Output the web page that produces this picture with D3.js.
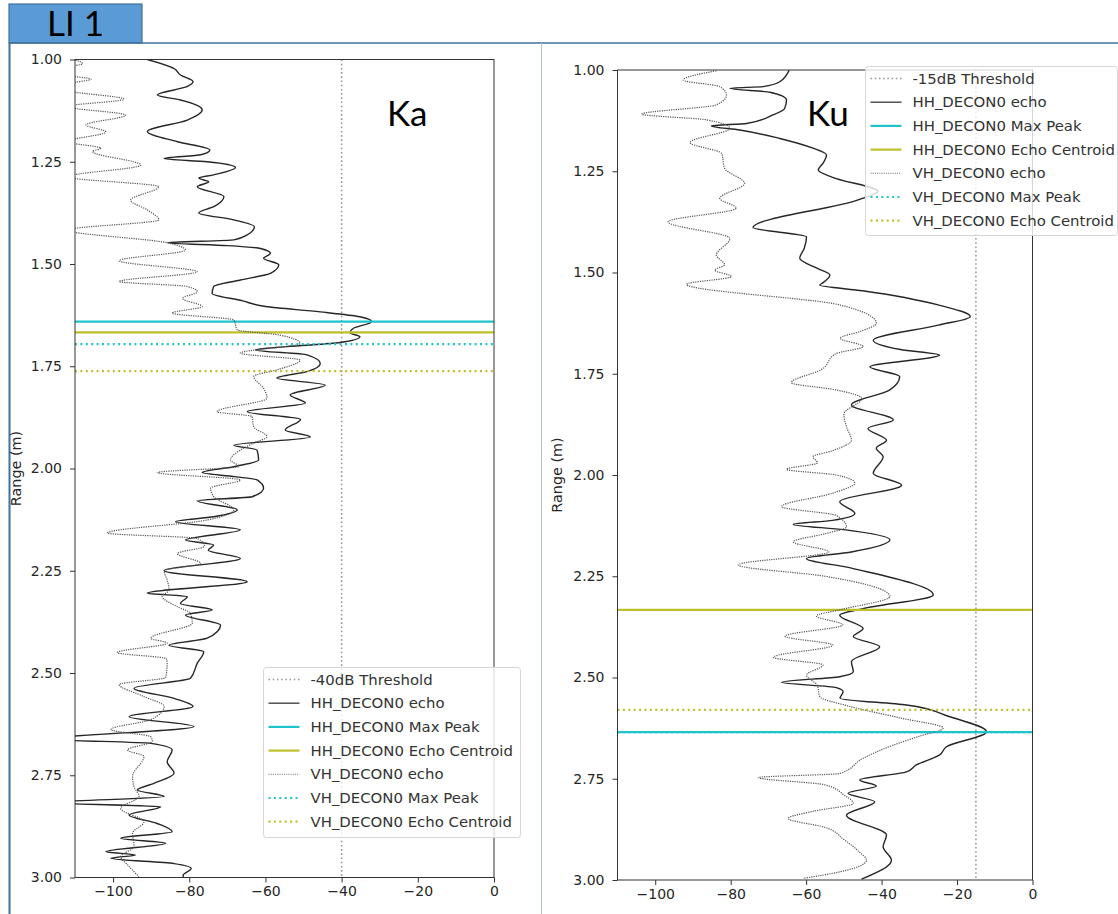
<!DOCTYPE html>
<html><head><meta charset="utf-8">
<script src="https://cdn.jsdelivr.net/npm/d3@7"></script>
<style>
body{margin:0;background:#fff}
svg{display:block}
</style>
</head><body>
<svg id="c" width="1118" height="914"></svg>
<script>
// ---------------- DATA ----------------
const rangeTicks = [1.00, 1.25, 1.50, 1.75, 2.00, 2.25, 2.50, 2.75, 3.00];
const powerTicks = [-100, -80, -60, -40, -20, 0];
const kaLegend = ["-40dB Threshold","HH_DECON0 echo","HH_DECON0 Max Peak","HH_DECON0 Echo Centroid","VH_DECON0 echo","VH_DECON0 Max Peak","VH_DECON0 Echo Centroid"];
const kuLegend = ["-15dB Threshold","HH_DECON0 echo","HH_DECON0 Max Peak","HH_DECON0 Echo Centroid","VH_DECON0 echo","VH_DECON0 Max Peak","VH_DECON0 Echo Centroid"];

// [range (m), power (dB)]
const kaHH = [[1.000,-91.0],[1.022,-84.0],[1.038,-82.3],[1.054,-79.0],[1.066,-80.5],[1.087,-88.4],[1.099,-82.3],[1.123,-76.6],[1.148,-80.5],[1.176,-91.0],[1.201,-83.1],[1.221,-74.6],[1.233,-77.0],[1.242,-86.6],[1.250,-75.3],[1.264,-67.9],[1.282,-73.6],[1.290,-77.5],[1.299,-74.9],[1.311,-77.9],[1.335,-70.9],[1.360,-73.6],[1.375,-77.5],[1.392,-68.3],[1.409,-62.9],[1.429,-64.8],[1.441,-68.3],[1.448,-85.8],[1.455,-70.0],[1.462,-61.3],[1.474,-58.7],[1.486,-60.5],[1.502,-56.5],[1.523,-58.7],[1.539,-66.6],[1.555,-73.6],[1.572,-74.0],[1.590,-66.0],[1.604,-60.0],[1.617,-45.6],[1.629,-35.2],[1.641,-32.1],[1.657,-36.9],[1.668,-37.8],[1.678,-35.2],[1.692,-40.4],[1.702,-54.4],[1.710,-62.6],[1.722,-49.1],[1.743,-45.6],[1.763,-49.1],[1.779,-57.0],[1.796,-44.3],[1.820,-53.5],[1.840,-49.5],[1.861,-64.8],[1.880,-50.8],[1.906,-54.8],[1.923,-48.2],[1.943,-68.3],[1.955,-62.2],[1.979,-61.8],[1.995,-68.0],[2.010,-76.6],[2.020,-68.0],[2.028,-62.2],[2.048,-60.5],[2.069,-63.5],[2.079,-77.9],[2.101,-67.4],[2.118,-73.6],[2.130,-83.6],[2.150,-66.6],[2.175,-81.0],[2.187,-73.6],[2.200,-75.0],[2.220,-66.6],[2.250,-86.6],[2.277,-64.8],[2.305,-91.0],[2.313,-80.5],[2.330,-82.3],[2.346,-74.0],[2.358,-81.0],[2.383,-71.8],[2.415,-75.3],[2.432,-85.3],[2.448,-76.2],[2.476,-77.9],[2.513,-79.7],[2.537,-94.5],[2.562,-84.0],[2.582,-79.0],[2.607,-95.8],[2.631,-78.8],[2.662,-116.0],[2.672,-90.1],[2.688,-84.5],[2.717,-85.8],[2.745,-84.0],[2.770,-89.3],[2.786,-93.6],[2.802,-86.6],[2.817,-116.0],[2.827,-87.5],[2.847,-95.8],[2.868,-88.4],[2.888,-84.5],[2.904,-98.0],[2.916,-86.2],[2.937,-101.9],[2.945,-94.1],[2.953,-100.6],[2.966,-84.0],[2.978,-79.5],[2.994,-81.6],[3.000,-81.6]];

const kaVH = [[1.000,-110.5],[1.010,-108.0],[1.020,-112.0],[1.038,-112.0],[1.048,-105.8],[1.060,-112.0],[1.075,-112.0],[1.097,-97.1],[1.115,-112.0],[1.136,-96.7],[1.160,-107.1],[1.177,-101.9],[1.201,-112.0],[1.217,-103.2],[1.225,-105.4],[1.258,-92.7],[1.287,-112.0],[1.311,-88.0],[1.344,-95.4],[1.368,-91.0],[1.392,-88.0],[1.417,-112.0],[1.448,-85.8],[1.466,-81.0],[1.492,-98.4],[1.519,-77.9],[1.543,-98.4],[1.555,-80.5],[1.568,-77.9],[1.584,-81.8],[1.604,-76.6],[1.620,-84.5],[1.637,-68.3],[1.661,-67.4],[1.674,-56.1],[1.694,-50.9],[1.718,-66.6],[1.735,-50.9],[1.759,-57.0],[1.775,-63.1],[1.804,-60.5],[1.828,-59.6],[1.861,-72.7],[1.873,-63.5],[1.898,-63.1],[1.922,-59.6],[1.938,-63.1],[1.955,-66.6],[1.979,-69.2],[1.995,-67.0],[2.010,-88.4],[2.028,-66.6],[2.048,-74.4],[2.069,-73.6],[2.101,-68.3],[2.126,-75.3],[2.158,-101.5],[2.171,-77.9],[2.190,-76.0],[2.208,-83.1],[2.232,-77.0],[2.250,-86.6],[2.273,-85.8],[2.297,-85.3],[2.313,-87.1],[2.338,-83.1],[2.354,-79.7],[2.378,-79.2],[2.415,-90.1],[2.427,-85.8],[2.450,-98.9],[2.465,-86.0],[2.478,-85.8],[2.511,-86.2],[2.528,-98.4],[2.556,-92.3],[2.582,-86.6],[2.614,-90.1],[2.638,-100.6],[2.656,-90.1],[2.667,-89.7],[2.688,-96.2],[2.704,-91.9],[2.753,-94.9],[2.778,-94.5],[2.802,-93.2],[2.831,-98.0],[2.864,-91.9],[2.892,-94.9],[2.924,-94.5],[2.949,-98.0],[2.969,-96.2],[2.998,-93.2]];

const kuHH = [[1.000,-64.5],[1.029,-67.0],[1.041,-71.4],[1.045,-80.2],[1.055,-69.6],[1.074,-65.2],[1.095,-65.7],[1.111,-68.8],[1.132,-75.8],[1.138,-85.1],[1.148,-77.6],[1.169,-67.0],[1.193,-58.2],[1.210,-54.6],[1.230,-55.5],[1.247,-56.8],[1.265,-53.0],[1.300,-41.0],[1.320,-46.0],[1.389,-74.1],[1.412,-59.9],[1.440,-60.5],[1.465,-61.7],[1.490,-57.0],[1.506,-53.7],[1.525,-55.5],[1.531,-56.4],[1.545,-45.0],[1.580,-25.0],[1.609,-16.5],[1.630,-25.0],[1.667,-42.2],[1.690,-35.0],[1.704,-24.6],[1.733,-43.1],[1.757,-35.2],[1.790,-37.8],[1.827,-48.0],[1.864,-36.9],[1.885,-43.6],[1.914,-38.7],[1.934,-41.4],[1.955,-39.6],[1.996,-42.2],[2.025,-34.7],[2.066,-51.1],[2.095,-47.1],[2.112,-53.0],[2.122,-63.4],[2.135,-50.0],[2.160,-37.8],[2.190,-48.0],[2.206,-59.9],[2.230,-48.0],[2.296,-26.3],[2.330,-45.0],[2.346,-51.1],[2.379,-44.9],[2.399,-47.5],[2.424,-40.5],[2.461,-48.0],[2.486,-47.5],[2.498,-51.1],[2.512,-66.5],[2.525,-52.0],[2.535,-50.2],[2.551,-51.0],[2.568,-33.4],[2.597,-21.9],[2.634,-12.2],[2.671,-22.8],[2.691,-24.6],[2.716,-30.8],[2.733,-33.4],[2.753,-45.8],[2.768,-41.4],[2.786,-48.9],[2.807,-41.8],[2.840,-49.3],[2.889,-38.7],[2.918,-39.6],[2.951,-37.4],[2.998,-45.3]];

const kuVH = [[1.002,-83.8],[1.025,-92.6],[1.041,-82.9],[1.062,-81.1],[1.086,-83.8],[1.109,-103.6],[1.123,-86.4],[1.144,-80.2],[1.179,-90.8],[1.206,-82.4],[1.243,-81.6],[1.280,-76.3],[1.317,-82.9],[1.341,-78.5],[1.375,-96.6],[1.416,-80.2],[1.457,-83.8],[1.481,-81.6],[1.494,-84.2],[1.510,-79.8],[1.529,-91.7],[1.580,-51.1],[1.625,-41.4],[1.646,-45.8],[1.662,-51.0],[1.683,-44.9],[1.700,-52.0],[1.740,-56.0],[1.772,-63.9],[1.790,-52.0],[1.811,-45.3],[1.850,-50.0],[1.881,-49.3],[1.914,-48.0],[1.940,-53.0],[1.955,-58.2],[1.970,-57.0],[1.986,-65.2],[2.000,-52.0],[2.020,-47.1],[2.045,-53.0],[2.078,-66.5],[2.100,-52.0],[2.128,-49.3],[2.145,-55.0],[2.165,-63.4],[2.190,-54.0],[2.222,-78.0],[2.250,-55.0],[2.300,-37.8],[2.333,-51.1],[2.348,-57.3],[2.370,-50.3],[2.398,-65.6],[2.420,-52.9],[2.450,-68.7],[2.469,-55.5],[2.494,-59.9],[2.520,-57.0],[2.547,-56.4],[2.570,-49.0],[2.600,-35.0],[2.625,-23.7],[2.645,-30.0],[2.667,-36.9],[2.700,-45.0],[2.737,-51.1],[2.747,-72.7],[2.765,-55.0],[2.790,-50.0],[2.811,-47.5],[2.830,-58.0],[2.848,-64.8],[2.870,-55.0],[2.900,-50.0],[2.930,-46.0],[2.951,-44.0],[2.980,-51.1],[2.996,-60.8]];

// reference markers: threshold (dB), HH peak, HH centroid, VH peak, VH centroid (m)
const kaMarkers = [-40, 1.641, 1.667, 1.696, 1.762];
const kuMarkers = [-15, 2.635, 2.333, 2.635, 2.580];

// ---------------- DRAW ----------------
const CYAN = "#1fc3cc", OLIVE = "#bfbf2a";
const svg = d3.select("#c");

// page frame
svg.append("rect").attr("x", 9).attr("y", 4).attr("width", 133).attr("height", 39)
  .attr("fill", "#5b9bd5").attr("stroke", "#41719c").attr("stroke-width", 1.2);
svg.append("text").attr("x", 75.5).attr("y", 36).attr("text-anchor", "middle")
  .attr("font-family", "Lato, 'Open Sans', sans-serif").attr("font-size", 35).attr("fill", "#000").text("LI 1");
svg.append("line").attr("x1", 9).attr("x2", 1118).attr("y1", 43).attr("y2", 43).attr("stroke", "#41719c").attr("stroke-width", 1.5);
svg.append("line").attr("x1", 9.5).attr("x2", 9.5).attr("y1", 43).attr("y2", 914).attr("stroke", "#41719c").attr("stroke-width", 2);
svg.append("line").attr("x1", 541.5).attr("x2", 541.5).attr("y1", 43).attr("y2", 914).attr("stroke", "#a8c2dc").attr("stroke-width", 1);

function panel(cfg) {
  const x = d3.scaleLinear().domain([-110, 0]).range([cfg.l, cfg.r]);
  const y = d3.scaleLinear().domain([1, 3]).range([cfg.t, cfg.b]);
  const g = svg.append("g");
  const clipId = "clip" + cfg.id;
  svg.append("clipPath").attr("id", clipId).append("rect")
    .attr("x", cfg.l).attr("y", cfg.t).attr("width", cfg.r - cfg.l).attr("height", cfg.b - cfg.t);
  const plot = g.append("g").attr("clip-path", `url(#${clipId})`);
  const line = d3.line().x(d => x(d[1])).y(d => y(d[0])).curve(d3.curveMonotoneY);
  const m = cfg.markers;

  // threshold
  plot.append("line").attr("x1", x(m[0])).attr("x2", x(m[0])).attr("y1", cfg.t).attr("y2", cfg.b)
    .attr("stroke", "#999").attr("stroke-width", 1.6).attr("stroke-dasharray", "1.6,2.6");
  // HH echo
  plot.append("path").datum(cfg.hh).attr("d", line).attr("fill", "none")
    .attr("stroke", "#262626").attr("stroke-width", 1.4);
  const hline = (r, color, dash) => {
    const l = plot.append("line").attr("x1", cfg.l).attr("x2", cfg.r).attr("y1", y(r)).attr("y2", y(r))
      .attr("stroke", color).attr("stroke-width", 2.2);
    if (dash) l.attr("stroke-dasharray", "2,3.4");
  };
  hline(m[1], CYAN, false);
  hline(m[2], OLIVE, false);
  // VH echo
  plot.append("path").datum(cfg.vh).attr("d", line).attr("fill", "none")
    .attr("stroke", "#555").attr("stroke-width", 1.2).attr("stroke-dasharray", "1.2,1.1");
  hline(m[3], CYAN, true);
  hline(m[4], OLIVE, true);

  // axes
  const ax = g.append("g").attr("transform", `translate(0,${cfg.b})`)
    .call(d3.axisBottom(x).tickValues(powerTicks).tickFormat(d3.format("d")).tickSize(5).tickPadding(4));
  const ay = g.append("g").attr("transform", `translate(${cfg.l},0)`)
    .call(d3.axisLeft(y).tickValues(rangeTicks).tickFormat(d3.format(".2f")).tickSize(5).tickPadding(8));
  [ax, ay].forEach(a => {
    a.select(".domain").remove();
    a.selectAll("line").attr("stroke", "#333");
    a.selectAll("text").attr("font-family", "'DejaVu Sans', sans-serif").attr("font-size", 14).attr("fill", "#262626");
  });
  g.append("rect").attr("x", cfg.l).attr("y", cfg.t).attr("width", cfg.r - cfg.l).attr("height", cfg.b - cfg.t)
    .attr("fill", "none").attr("stroke", "#333").attr("stroke-width", 1);

  g.append("text").attr("transform", `translate(${cfg.labelX},${(cfg.t + cfg.b) / 2}) rotate(-90)`)
    .attr("text-anchor", "middle").attr("dominant-baseline", "central")
    .attr("font-family", "'DejaVu Sans', sans-serif").attr("font-size", 14.4).attr("fill", "#262626").text("Range (m)");

  g.append("text").attr("x", cfg.bandX).attr("y", cfg.bandY)
    .attr("font-family", "Lato, 'Open Sans', sans-serif").attr("font-size", 35).attr("fill", "#000").text(cfg.band);

  // legend
  const L = cfg.legend;
  const lg = g.append("g");
  lg.append("rect").attr("x", L.x).attr("y", L.y).attr("width", L.w).attr("height", L.h).attr("rx", 3)
    .attr("fill", "#fff").attr("fill-opacity", 0.8).attr("stroke", "#d6d6d6");
  const styles = [
    {c: "#999", w: 1.6, d: "1.6,2.6"},
    {c: "#444", w: 1.4, d: null},
    {c: CYAN, w: 2.2, d: null},
    {c: OLIVE, w: 2.2, d: null},
    {c: "#777", w: 1.1, d: "1.1,1.1"},
    {c: CYAN, w: 2.2, d: "2,3.4"},
    {c: OLIVE, w: 2.2, d: "2,3.4"}
  ];
  cfg.labels.forEach((t, i) => {
    const yy = L.y + 12 + i * 23.7;
    const s = styles[i];
    const ln = lg.append("line").attr("x1", L.x + 5).attr("x2", L.x + 36).attr("y1", yy).attr("y2", yy)
      .attr("stroke", s.c).attr("stroke-width", s.w);
    if (s.d) ln.attr("stroke-dasharray", s.d);
    lg.append("text").attr("x", L.x + 47).attr("y", yy).attr("dominant-baseline", "central")
      .attr("font-family", "'DejaVu Sans', sans-serif").attr("font-size", 14.9).attr("fill", "#333").text(t);
  });
}

panel({id: "ka", l: 75, r: 494, t: 59.5, b: 877.5, hh: kaHH, vh: kaVH, markers: kaMarkers,
  labels: kaLegend, labelX: 16, band: "Ka", bandX: 387, bandY: 126,
  legend: {x: 263.5, y: 667.5, w: 257, h: 170}});
panel({id: "ku", l: 617.5, r: 1032.5, t: 70, b: 880, hh: kuHH, vh: kuVH, markers: kuMarkers,
  labels: kuLegend, labelX: 557, band: "Ku", bandX: 807, bandY: 126,
  legend: {x: 865.5, y: 66.5, w: 252, h: 169}});
</script>
</body></html>
